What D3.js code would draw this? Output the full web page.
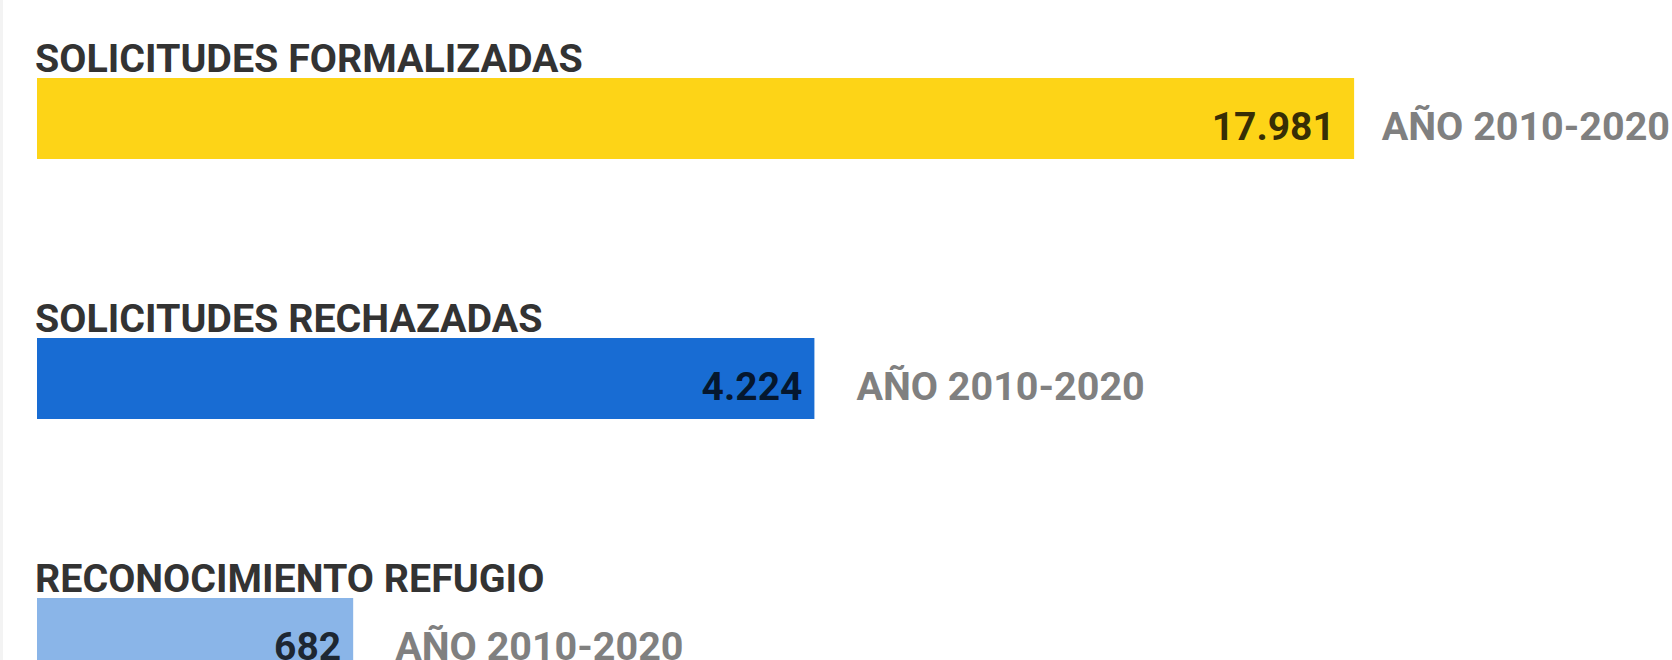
<!DOCTYPE html>
<html>
<head>
<meta charset="utf-8">
<script src="https://cdn.jsdelivr.net/npm/d3@7/dist/d3.min.js"></script>
<style>
  html, body { margin: 0; padding: 0; background: #ffffff; overflow: hidden; }
  svg { display: block; }
</style>
</head>
<body>
<svg id="chart" width="1672" height="660"></svg>
<script>
// ---- data ----
const categories = ["SOLICITUDES FORMALIZADAS", "SOLICITUDES RECHAZADAS", "RECONOCIMIENTO REFUGIO"];
const values = [17981, 4224, 682];
const valueLabels = ["17.981", "4.224", "682"];
const periodLabels = ["AÑO 2010-2020", "AÑO 2010-2020", "AÑO 2010-2020"];
const rowAxisMax = [20000, 7960, 3160];   // each bar is its own small chart with its own axis maximum
const colors = ["#fdd417", "#186cd3", "#8ab5e8"];

// ---- layout ----
const W = 1672, H = 660;
const left = 37;
const barSpan = 1465;
const svg = d3.select("#chart");

svg.append("rect").attr("x", 0).attr("y", 0).attr("width", 3).attr("height", H).attr("fill", "#f3f3f3");

const y = d3.scaleBand()
  .domain(categories)
  .range([78, 78 + 2 * 260 + 81])
  .paddingInner(1 - 81 / 260)
  .paddingOuter(0);

const rows = categories.map((c, i) => ({
  cat: c, value: values[i], label: valueLabels[i], period: periodLabels[i], color: colors[i],
  x: d3.scaleLinear().domain([0, rowAxisMax[i]]).range([left, left + barSpan])
}));

const g = svg.selectAll("g.row").data(rows).join("g").attr("class", "row");

g.append("text")
  .attr("x", left - 2)
  .attr("y", d => y(d.cat) - 6)
  .attr("font-family", "Roboto, sans-serif")
  .attr("font-weight", 700)
  .attr("font-size", 39.4)
  .attr("fill", "#333333")
  .text(d => d.cat);

g.append("rect")
  .attr("x", d => d.x(0))
  .attr("y", d => y(d.cat))
  .attr("width", d => d.x(d.value) - d.x(0))
  .attr("height", y.bandwidth())
  .attr("fill", d => d.color);

// period label first, to know how far the label pair must shift to stay inside the page
g.append("text")
  .attr("y", d => y(d.cat) + 62)
  .attr("font-family", "Roboto, sans-serif")
  .attr("font-weight", 700)
  .attr("font-size", 39.5)
  .attr("fill", "#808080")
  .text(d => d.period)
  .each(function(d) {
    const tw = this.getComputedTextLength();
    const want = d.x(d.value) + 42;
    d.shift = Math.max(0, want + tw - (W - 2));
    d3.select(this).attr("x", want - d.shift);
  });

g.append("text")
  .attr("x", d => d.x(d.value) - 12 - d.shift / 2)
  .attr("y", d => y(d.cat) + 62)
  .attr("text-anchor", "end")
  .attr("font-family", "Roboto, sans-serif")
  .attr("font-weight", 700)
  .attr("font-size", 39)
  .attr("fill", "#000000")
  .attr("fill-opacity", 0.8)
  .text(d => d.label);
</script>
</body>
</html>
